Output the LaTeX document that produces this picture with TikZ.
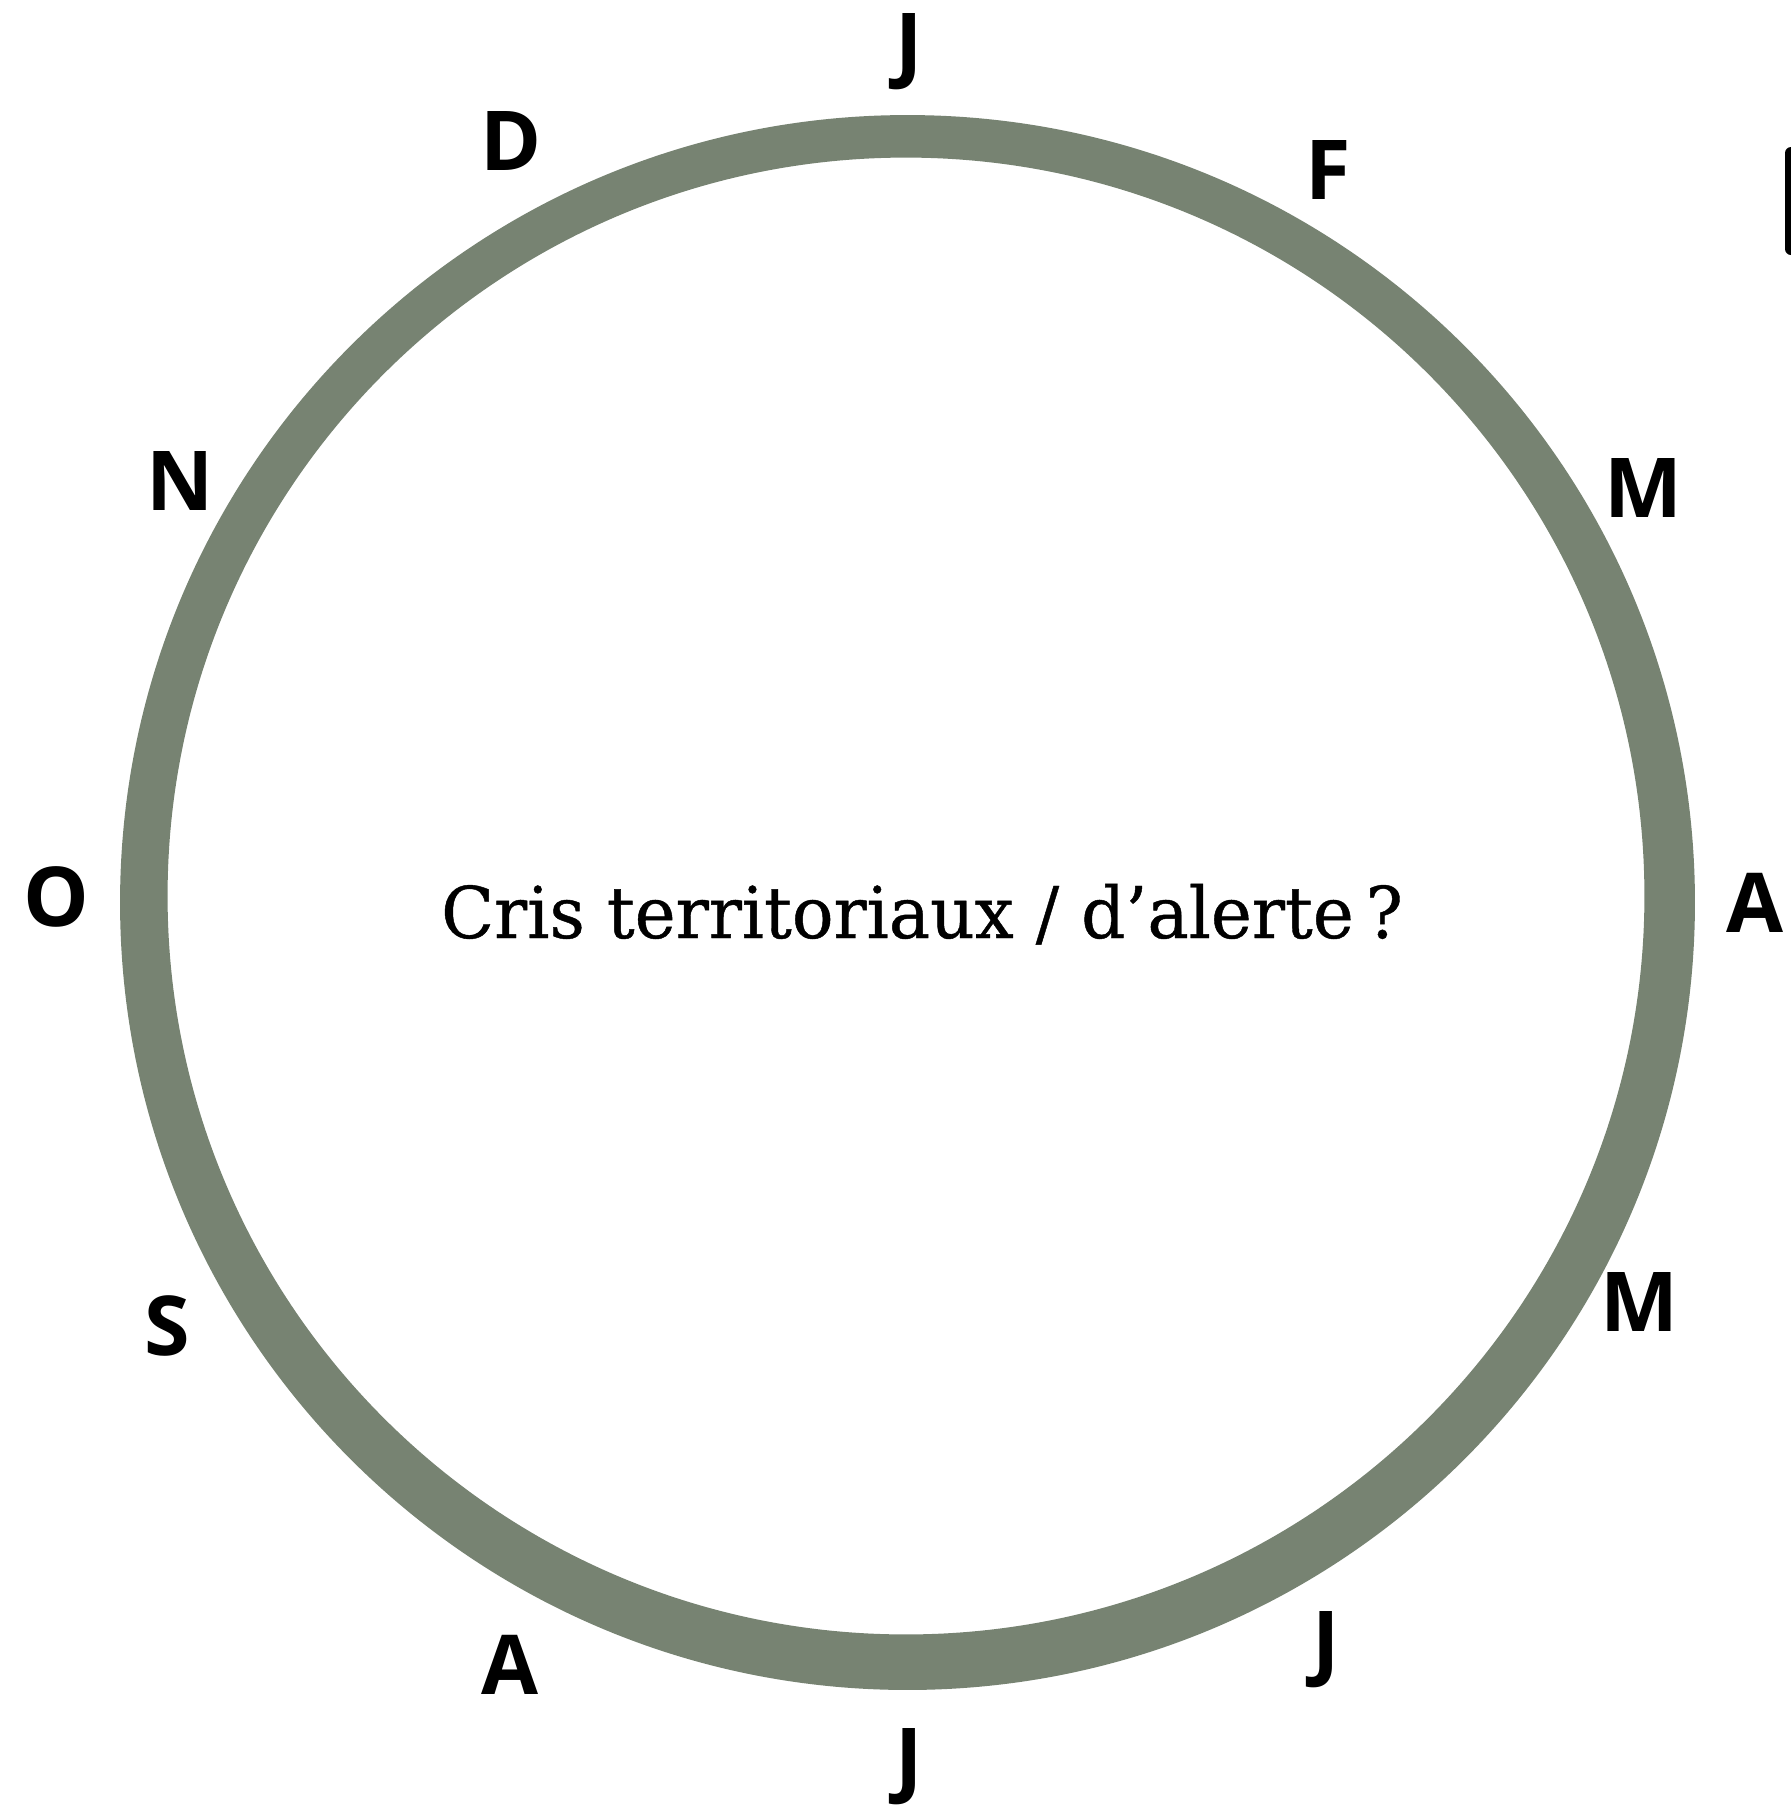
\documentclass[tikz,border=0pt]{standalone}
\usepackage{fontspec}
\newfontfamily\letterfont{Open Sans}
\newfontfamily\captionfont[FakeStretch=0.97,FakeBold=0.6]{DejaVu Serif}
\definecolor{ringgreen}{RGB}{119,131,114}
\tikzset{
  month/.style={anchor=base, inner sep=0pt, font=\letterfont\bfseries\fontsize{23.5pt}{28pt}\selectfont},
}
\begin{document}
\begin{tikzpicture}[x=0.01cm, y=-0.01cm]
\useasboundingbox (0,0) rectangle (1791,1805);
\fill[white] (0,0) rectangle (1791,1805);
% ring
\fill[ringgreen, even odd rule] (907.5,902.5) circle[radius=7.87cm] (906,896) circle[radius=7.38cm];
% cut-off glyph at the right edge
\begin{scope}
\clip (0,0) rectangle (1791,1805);
\fill[black, rounded corners=0.06cm] (1785,147) rectangle (1810,255);
\end{scope}
% caption
\node[anchor=base, inner sep=0pt, font=\captionfont\fontsize{20.3pt}{24pt}\selectfont] (caption) at (922,938) {Cris territoriaux / d’alerte\,?};
% months
\node[month] (m1) at (909,72) {J};
\node[month] (m2) at (1328,199) {F};
\node[month] (m3) at (1643,517) {M};
\node[month] (m4) at (1755,932) {A};
\node[month] (m5) at (1639,1331) {M};
\node[month] (m6) at (1326,1670) {J};
\node[month] (m7) at (909,1787) {J};
\node[month] (m8) at (510,1694) {A};
\node[month] (m9) at (167,1355) {S};
\node[month] (m10) at (56,926) {O};
\node[month] (m11) at (180,510) {N};
\node[month] (m12) at (511,170) {D};
\end{tikzpicture}
\end{document}
